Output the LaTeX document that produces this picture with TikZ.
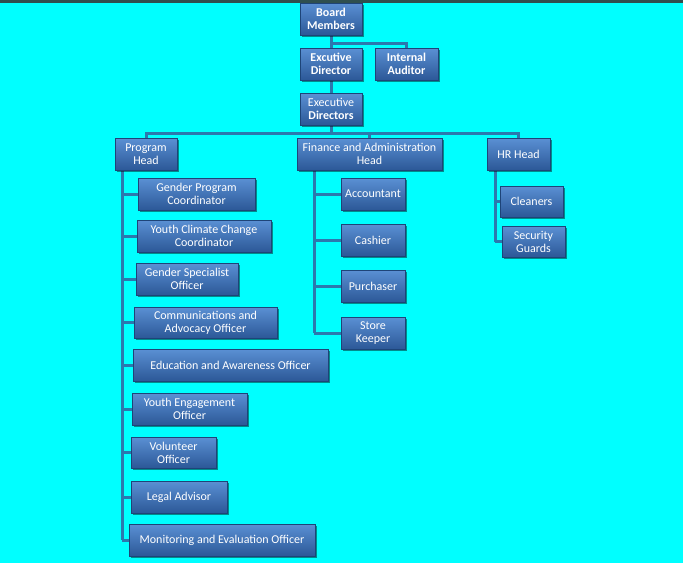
\documentclass[tikz,border=0pt]{standalone}
\usepackage{fontspec}
\newfontfamily\carlito{Carlito}
\usetikzlibrary{backgrounds,shadows}
\definecolor{bgcyan}{HTML}{00FFFF}
\definecolor{topband}{HTML}{2F4F4F}
\definecolor{linkblue}{HTML}{2C78AE}
\definecolor{boxtop}{HTML}{5A90D4}
\definecolor{boxbot}{HTML}{2C5897}
\definecolor{boxedge}{HTML}{1E4478}
\tikzset{
  x=1pt, y=-1pt,
  orgbox/.style={draw=boxedge, line width=0.6pt, top color=boxtop, bottom color=boxbot,
    text=white, align=center, inner sep=0pt,
    font=\carlito\fontsize{12}{13}\selectfont,
    drop shadow={shadow xshift=1.5pt, shadow yshift=-1.5pt, opacity=0.45, fill=black}},
  boldbox/.style={orgbox, font=\carlito\bfseries\fontsize{12}{13}\selectfont},
  link/.style={draw=linkblue, line width=3pt},
}
\begin{document}
\begin{tikzpicture}
\useasboundingbox (0,0) rectangle (683,563);
% nodes
\node[boldbox, minimum width=62, minimum height=32] (board) at (331,19) {Board\\Members};
\node[boldbox, minimum width=62, minimum height=32] (exd) at (331,64) {Excutive\\Director};
\node[boldbox, minimum width=63, minimum height=32] (aud) at (406.5,64) {Internal\\Auditor};
\node[orgbox, minimum width=62, minimum height=32] (exds) at (331,109) {Executive\\\textbf{Directors}};
\node[orgbox, minimum width=62, minimum height=32] (prog) at (146,154) {Program\\Head};
\node[orgbox, minimum width=145, minimum height=32] (fin) at (369.5,154) {Finance and Administration\\Head};
\node[orgbox, minimum width=63, minimum height=32] (hr) at (518.5,154) {HR Head};
% program children
\node[orgbox, minimum width=117, minimum height=32] (gpc) at (196.5,194) {Gender Program\\Coordinator};
\node[orgbox, minimum width=134, minimum height=32] (ycc) at (204,236) {Youth Climate Change\\Coordinator};
\node[orgbox, minimum width=102, minimum height=32] (gso) at (187,279) {Gender Specialist\\Officer};
\node[orgbox, minimum width=143, minimum height=31] (cao) at (205.5,322.5) {Communications and\\Advocacy Officer};
\node[orgbox, minimum width=195, minimum height=32] (eao) at (230.5,365) {Education and Awareness Officer};
\node[orgbox, minimum width=115, minimum height=32] (yeo) at (189.5,409) {Youth Engagement\\Officer};
\node[orgbox, minimum width=85, minimum height=31] (vol) at (173.5,452.5) {Volunteer\\Officer};
\node[orgbox, minimum width=96, minimum height=32] (leg) at (179,497) {Legal Advisor};
\node[orgbox, minimum width=186, minimum height=32] (mon) at (222,540) {Monitoring and Evaluation Officer};
% finance children
\node[orgbox, minimum width=64, minimum height=32] (acc) at (373,194) {Accountant};
\node[orgbox, minimum width=64, minimum height=32] (cas) at (373,240) {Cashier};
\node[orgbox, minimum width=64, minimum height=32] (pur) at (373,286) {Purchaser};
\node[orgbox, minimum width=64, minimum height=32] (sto) at (373,333) {Store\\Keeper};
% hr children
\node[orgbox, minimum width=63, minimum height=31] (cle) at (531.5,201.5) {Cleaners};
\node[orgbox, minimum width=63, minimum height=31] (sec) at (533.5,241.5) {Security\\Guards};
% background and connectors
\begin{scope}[on background layer]
\fill[bgcyan] (0,0) rectangle (683,563);
\fill[topband] (0,0) rectangle (683,2.5);
\coordinate (j1) at (331,43);
\coordinate (j2) at (331,133);
\coordinate (pv) at (122,170);
\coordinate (fv) at (314,170);
\coordinate (hv) at (495,170);
\draw[link] (board) -- (exds);
\draw[link] (j1) -| (aud.north);
\draw[link] (exds.south) -- (j2);
\draw[link] (prog.north) |- (j2) -| (hr.north);
\draw[link] (fin.north) -- (fin.north |- j2);
\draw[link] (pv) -- (pv |- mon.west);
\foreach \c in {gpc,ycc,gso,cao,eao,yeo,vol,leg,mon}
  \draw[link] (pv |- \c.west) -- (\c.west);
\draw[link] (fv) -- (fv |- sto.west);
\foreach \c in {acc,cas,pur,sto}
  \draw[link] (fv |- \c.west) -- (\c.west);
\draw[link] (hv) -- (hv |- sec.west);
\foreach \c in {cle,sec}
  \draw[link] (hv |- \c.west) -- (\c.west);
\end{scope}
\end{tikzpicture}
\end{document}
